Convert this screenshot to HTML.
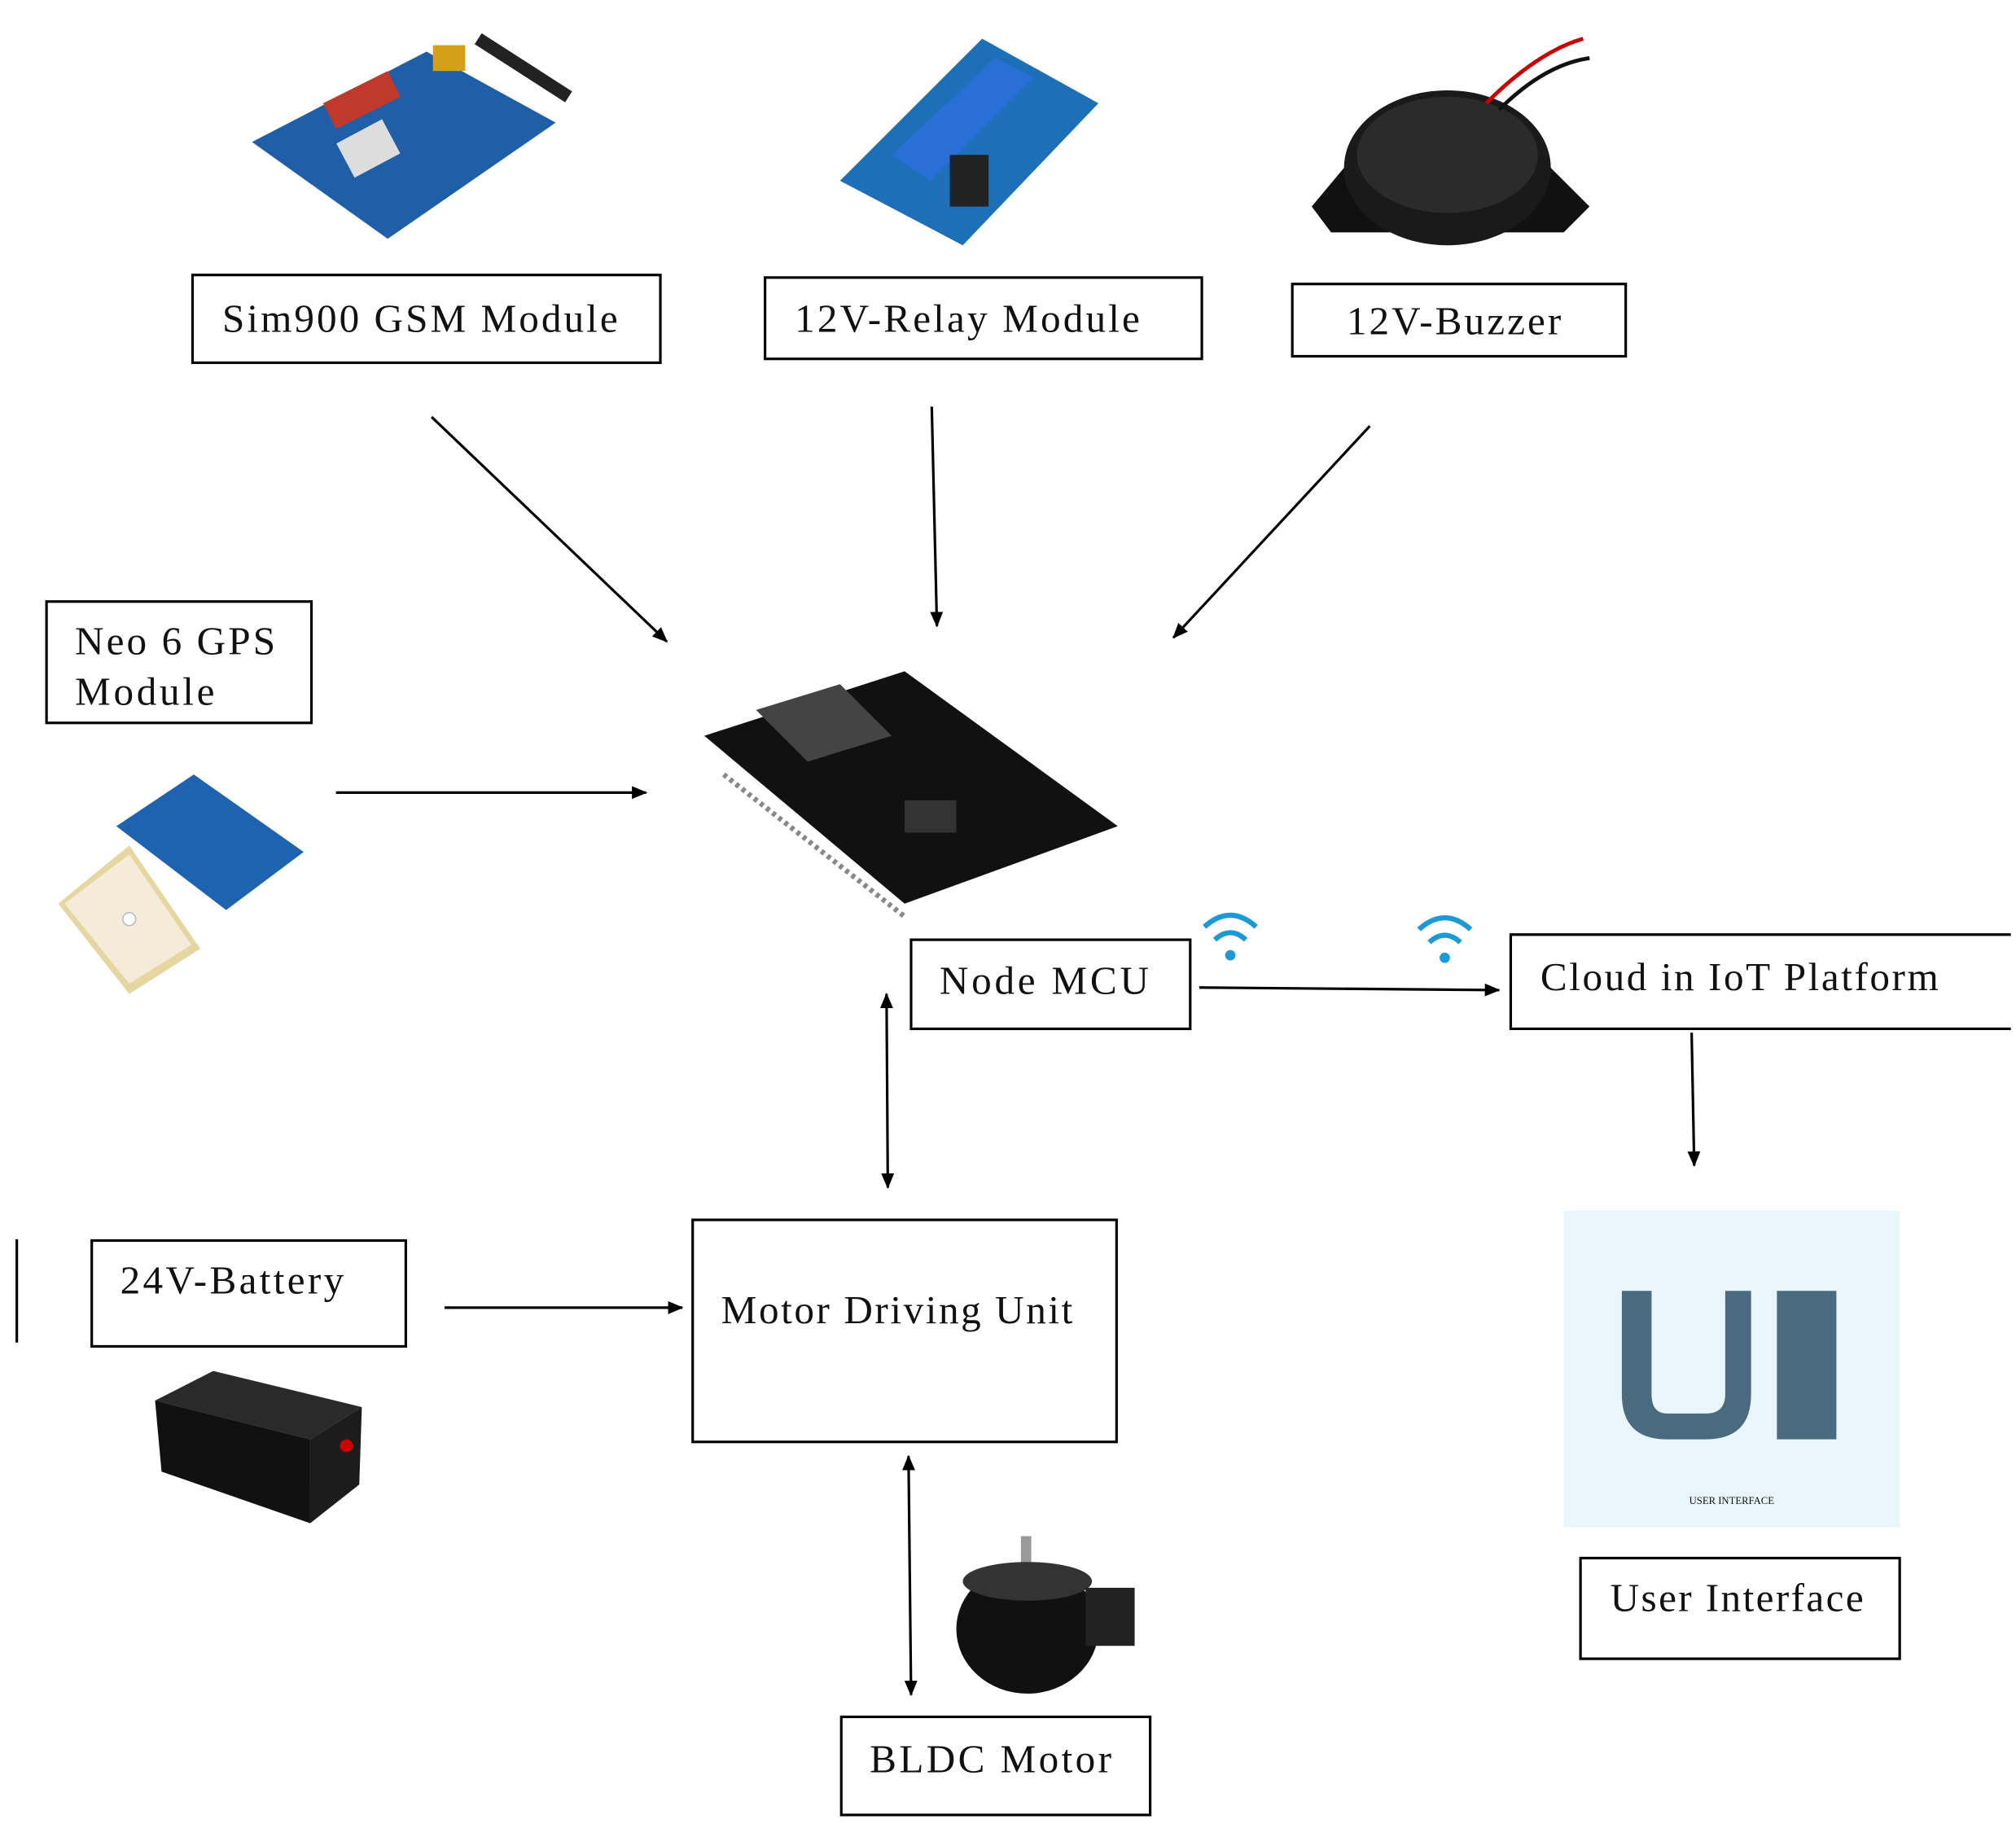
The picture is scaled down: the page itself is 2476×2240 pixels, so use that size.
<!DOCTYPE html>
<html><head><meta charset="utf-8"><style>
html,body{margin:0;padding:0;background:#fff;}
svg{display:block}
text{font-family:"Liberation Serif",serif;fill:#111;}
</style></head><body>
<svg width="2476" height="2240" viewBox="0 0 1560 1413" preserveAspectRatio="none" xmlns="http://www.w3.org/2000/svg">
<defs>
<marker id="a" markerWidth="12" markerHeight="10" refX="11" refY="5" orient="auto" markerUnits="userSpaceOnUse"><path d="M0,0 L12,5 L0,10 Z" fill="#000"/></marker>
<marker id="b" markerWidth="12" markerHeight="10" refX="1" refY="5" orient="auto" markerUnits="userSpaceOnUse"><path d="M12,0 L0,5 L12,10 Z" fill="#000"/></marker>
</defs>
<rect width="1560" height="1413" fill="#fff"/>

<g>
<polygon points="195,110 330,40 430,95 300,185" fill="#1f5fa8"/>
<polygon points="250,80 300,55 310,75 260,100" fill="#c0392b"/>
<rect x="265" y="100" width="40" height="30" fill="#ddd" transform="rotate(-28 285 115)"/>
<line x1="370" y1="30" x2="440" y2="75" stroke="#222" stroke-width="10"/>
<rect x="335" y="35" width="25" height="20" fill="#d4a017"/>
</g>
<g>
<polygon points="650,140 760,30 850,80 745,190" fill="#1d6fb8"/>
<polygon points="690,120 770,45 800,60 720,140" fill="#2a6fd6"/>
<rect x="735" y="120" width="30" height="40" fill="#222"/>
</g>
<g>
<polygon points="1015,160 1040,130 1200,130 1230,160 1210,180 1030,180" fill="#111"/>
<ellipse cx="1120" cy="130" rx="80" ry="60" fill="#1a1a1a"/>
<ellipse cx="1120" cy="120" rx="70" ry="45" fill="#2b2b2b"/>
<path d="M1150,80 Q1190,40 1225,30" stroke="#c00" stroke-width="3" fill="none"/>
<path d="M1160,85 Q1195,50 1230,45" stroke="#111" stroke-width="3" fill="none"/>
</g>
<g>
<polygon points="545,570 700,520 865,640 700,700" fill="#111"/>
<polygon points="585,550 650,530 690,570 625,590" fill="#444"/>
<rect x="700" y="620" width="40" height="25" fill="#333"/>
<line x1="560" y1="600" x2="700" y2="710" stroke="#888" stroke-width="4" stroke-dasharray="3,3"/>
</g>
<g>
<polygon points="90,640 150,600 235,660 175,705" fill="#1e63b0"/>
<polygon points="45,700 100,655 155,735 100,770" fill="#e6d6a0"/>
<polygon points="50,700 100,662 148,732 100,762" fill="#f4ecd8"/>
<circle cx="100" cy="712" r="5" fill="#fff" stroke="#bbb"/>
</g>
<g>
<polygon points="120,1085 165,1062 280,1090 240,1115" fill="#2a2a2a"/>
<polygon points="120,1085 240,1115 240,1180 125,1140" fill="#111"/>
<polygon points="240,1115 280,1090 278,1150 240,1180" fill="#1c1c1c"/>
<circle cx="268" cy="1120" r="5" fill="#c00"/>
</g>
<g>
<rect x="790" y="1190" width="8" height="30" fill="#999"/>
<ellipse cx="795" cy="1262" rx="55" ry="50" fill="#111"/>
<ellipse cx="795" cy="1225" rx="50" ry="15" fill="#333"/>
<rect x="840" y="1230" width="38" height="45" fill="#222"/>
</g>
<g>
<rect x="1210" y="938" width="260" height="245" fill="#e9f6fb"/>
<path d="M1255,1000 L1255,1080 Q1255,1115 1290,1115 L1320,1115 Q1355,1115 1355,1080 L1355,1000 L1335,1000 L1335,1080 Q1335,1095 1320,1095 L1290,1095 Q1278,1095 1278,1080 L1278,1000 Z" fill="#4a6a80"/>
<rect x="1375" y="1000" width="46" height="115" fill="#4a6a80"/>
<text x="1340" y="1165" font-size="8" text-anchor="middle" fill="#555">USER INTERFACE</text>
</g>
<g fill="none" stroke="#1a9ad6" stroke-width="4">
<path d="M932,718 Q952,700 972,718"/><path d="M940,728 Q952,717 964,728"/>
<path d="M1098,720 Q1118,702 1138,720"/><path d="M1106,730 Q1118,719 1130,730"/>
</g>
<circle cx="952" cy="740" r="4" fill="#1a9ad6"/>
<circle cx="1118" cy="742" r="4" fill="#1a9ad6"/>

<g fill="none" stroke="#000" stroke-width="2">
<rect x="149" y="213" width="362" height="68"/>
<rect x="592" y="215" width="338" height="63"/>
<rect x="1000" y="220" width="258" height="56"/>
<rect x="36" y="466" width="205" height="94"/>
<rect x="705" y="728" width="216" height="69"/>
<path d="M1556,724 L1169,724 L1169,797 L1556,797"/>
<rect x="71" y="961" width="243" height="82"/>
<rect x="536" y="945" width="328" height="172"/>
<rect x="1223" y="1207" width="247" height="78"/>
<rect x="651" y="1330" width="239" height="76"/>
<line x1="13" y1="960" x2="13" y2="1040"/>
</g>
<g font-size="31">
<text x="172" y="257" textLength="306" lengthAdjust="spacing">Sim900 GSM Module</text>
<text x="615" y="257" textLength="267" lengthAdjust="spacing">12V-Relay Module</text>
<text x="1042" y="259" textLength="166" lengthAdjust="spacing">12V-Buzzer</text>
<text x="58" y="507" textLength="155" lengthAdjust="spacing">Neo 6 GPS</text>
<text x="58" y="546" textLength="108" lengthAdjust="spacing">Module</text>
<text x="727" y="770" textLength="162" lengthAdjust="spacing">Node MCU</text>
<text x="1192" y="767" textLength="308" lengthAdjust="spacing">Cloud in IoT Platform</text>
<text x="93" y="1002" textLength="173" lengthAdjust="spacing">24V-Battery</text>
<text x="558" y="1025" textLength="272" lengthAdjust="spacing">Motor Driving Unit</text>
<text x="1246" y="1248" textLength="196" lengthAdjust="spacing">User Interface</text>
<text x="673" y="1373" textLength="187" lengthAdjust="spacing">BLDC Motor</text>
</g>

<g stroke="#000" stroke-width="2" fill="none">
<line x1="334" y1="323" x2="516" y2="497" marker-end="url(#a)"/>
<line x1="721" y1="315" x2="725" y2="485" marker-end="url(#a)"/>
<line x1="1060" y1="330" x2="908" y2="494" marker-end="url(#a)"/>
<line x1="260" y1="614" x2="500" y2="614" marker-end="url(#a)"/>
<line x1="928" y1="765" x2="1160" y2="767" marker-end="url(#a)"/>
<line x1="1309" y1="800" x2="1311" y2="903" marker-end="url(#a)"/>
<line x1="686" y1="770" x2="687" y2="920" marker-start="url(#b)" marker-end="url(#a)"/>
<line x1="344" y1="1013" x2="528" y2="1013" marker-end="url(#a)"/>
<line x1="703" y1="1128" x2="705" y2="1313" marker-start="url(#b)" marker-end="url(#a)"/>
</g>
</svg>
</body></html>
